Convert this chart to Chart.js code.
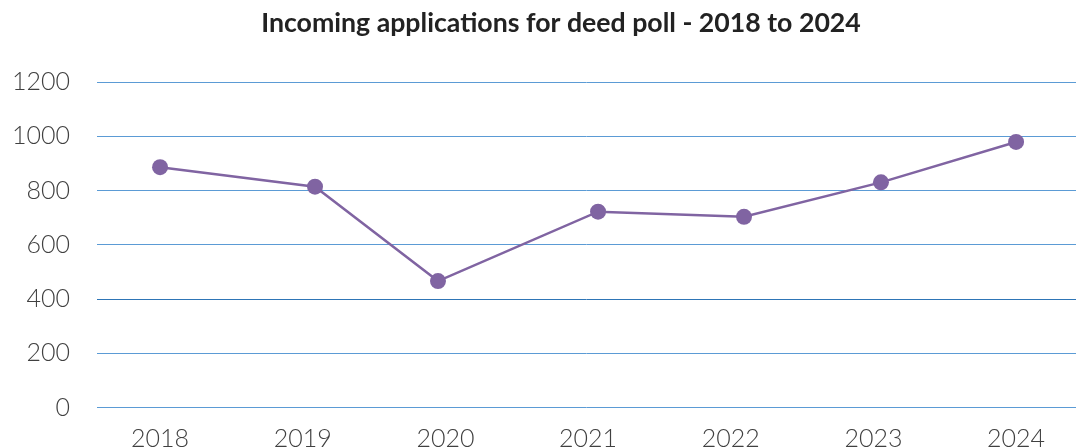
<!DOCTYPE html>
<html>
<head>
<meta charset="utf-8">
<script src="https://cdn.jsdelivr.net/npm/chart.js@4"></script>
<style>
  html, body { margin: 0; padding: 0; background: #fff; overflow: hidden; }
  #wrap { width: 1076px; height: 447px; position: relative; }
</style>
</head>
<body>
<div id="wrap"><canvas id="deed-poll-chart"></canvas></div>
<script>
const years = [2018, 2019, 2020, 2021, 2022, 2023, 2024];
// where each point sits along the year axis (the source plots them slightly off the labels)
const pointYears = [2018.0, 2019.086, 2019.948, 2021.07, 2022.093, 2023.053, 2024.0];
const applications = [886, 814, 466, 722, 703, 830, 979];
const yTicks = [0, 200, 400, 600, 800, 1000, 1200];
const chartTitle = "Incoming applications for deed poll - 2018 to 2024";

const lineColor = "#8064A2";

// title is drawn by hand so it can sit a bit right of the canvas centre, like the original
const titlePlugin = {
  id: "offsetTitle",
  afterDraw(chart) {
    const c = chart.ctx;
    c.save();
    c.font = "bold 26.7px Lato";
    c.fillStyle = "#222";
    c.textAlign = "center";
    c.textBaseline = "alphabetic";
    c.fillText(chartTitle, 561, 31.5);
    c.restore();
  },
};

document.addEventListener("DOMContentLoaded", () => {
  const ctx = document.getElementById("deed-poll-chart").getContext("2d");
  new Chart(ctx, {
    type: "line",
    data: {
      datasets: [
        {
          label: "Applications",
          data: pointYears.map((x, i) => ({ x: x, y: applications[i] })),
          borderColor: lineColor,
          backgroundColor: lineColor,
          borderWidth: 2.5,
          pointRadius: 8,
          pointHoverRadius: 8,
          pointBorderWidth: 0,
          tension: 0,
        },
      ],
    },
    plugins: [titlePlugin],
    options: {
      responsive: true,
      maintainAspectRatio: false,
      animation: false,
      layout: { padding: { top: 82 }, autoPadding: false }, // gridlines run to the right edge
      plugins: {
        legend: { display: false },
        tooltip: { enabled: false },
        title: { display: false },
      },
      scales: {
        x: {
          type: "linear",
          min: 2017.558,
          max: 2024.42,
          afterBuildTicks: (scale) => {
            scale.ticks = years.map((v) => ({ value: v }));
          },
          afterFit: (scale) => {
            scale.height = 39.5;
            scale.paddingLeft = 0;
            scale.paddingRight = 0;
          },
          grid: { display: false },
          border: { display: false },
          ticks: {
            color: "#404040",
            padding: 8,
            maxRotation: 0,
            font: { family: "Lato", size: 25, weight: 300 },
            callback: (value) => String(value), // no thousands separator
          },
        },
        y: {
          min: 0,
          max: 1200,
          afterBuildTicks: (scale) => {
            scale.ticks = yTicks.map((v) => ({ value: v }));
          },
          afterFit: (scale) => {
            scale.width = 97;
            scale.paddingTop = 0;
            scale.paddingBottom = 0;
          },
          border: { display: false },
          grid: {
            drawTicks: false,
            lineWidth: 1,
            color: (c) => (c.tick && c.tick.value === 400 ? "#2E75B6" : "#5B9BD5"),
          },
          ticks: {
            color: "#404040",
            padding: 27,
            font: { family: "Lato", size: 25, weight: 300 },
            callback: (value) => String(value),
          },
        },
      },
    },
  });
});
</script>
</body>
</html>
